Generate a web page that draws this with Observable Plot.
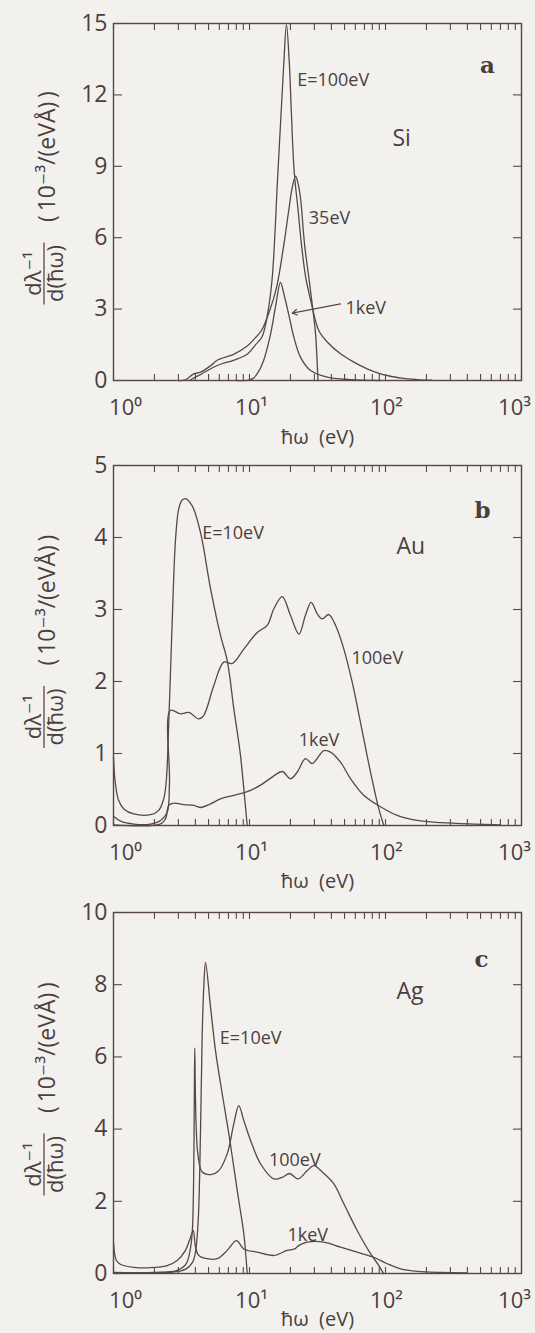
<!DOCTYPE html>
<html><head><meta charset="utf-8">
<script src="https://cdn.jsdelivr.net/npm/d3@7"></script>
<script src="https://cdn.jsdelivr.net/npm/@observablehq/plot@0.6"></script>
<style>
html,body{margin:0;padding:0;background:#f3f1ee;}
#chart{width:535px;}
#chart svg{display:block;}
</style></head><body><div id="chart"></div>
<script>
// ---------- data: [ħω (eV), dλ⁻¹/d(ħω) (10⁻³/(eVÅ))] ----------
// Panel a: Si
const si100eV = [[3.68,0.03],[4.36,0.25],[5.79,0.63],[7.63,0.85],[9.62,1.1],[11.07,1.5],[12.4,1.85],[13.7,2.93],[14.7,4.33],[16.1,8.52],[17.1,11.31],[17.9,13.4],[18.7,14.95],[19.6,13.4],[20.3,11.31],[21.3,8.8],[22.8,7.12],[24.1,5.72],[25.9,4.33],[28.6,3.21],[32.3,2.1],[37.3,1.62],[46.7,1.12],[58.5,0.77],[73.3,0.49],[91.9,0.28],[103,0.21],[130,0.1],[170,0.04],[220,0.01]];
const si35eV = [[3.0,0],[3.38,0.03],[3.89,0.28],[4.36,0.35],[5.17,0.62],[5.79,0.85],[7.63,1.1],[9.62,1.45],[11.07,1.8],[12.25,2.1],[14.0,2.9],[15.8,3.9],[17.9,5.72],[19.4,7.12],[20.6,8.1],[21.8,8.59],[22.7,8.3],[23.7,7.68],[25.4,5.72],[27.3,4.33],[28.9,3.21],[30.6,1.96],[31.8,0.14],[31.9,0]];
const si1keV = [[8,0],[9.84,0.02],[10.7,0.1],[11.6,0.35],[12.7,0.84],[14.3,1.96],[15.5,3.07],[16.9,4.12],[17.9,3.63],[19.4,2.79],[21.2,1.82],[23.7,0.98],[28.1,0.42],[37.3,0.14],[55.3,0.04],[92,0]];
const siTicksY = [0,3,6,9,12,15];
const siLabels = [{t:"E=100eV",x:22.4,y:12.6},{t:"35eV",x:27.3,y:6.8},{t:"1keV",x:50.8,y:3.02}];
const siArrow = [{x1:46.7,y1:3.22,x2:20.6,y2:2.83}];

// Panel b: Au
const au10eV = [[1.0,0.95],[1.03,0.6],[1.09,0.35],[1.19,0.23],[1.41,0.16],[1.87,0.15],[2.15,0.21],[2.34,0.37],[2.44,0.6],[2.55,1.43],[2.70,2.82],[2.86,3.98],[3.02,4.40],[3.2,4.52],[3.38,4.54],[3.79,4.44],[4.36,4.07],[5.17,3.29],[6.12,2.64],[6.86,2.29],[7.67,1.62],[8.59,0.97],[9.62,0]];
const au100eV = [[1.0,0.13],[1.13,0.06],[1.41,0.02],[1.87,0.02],[2.22,0.07],[2.48,0.18],[2.58,0.6],[2.62,1.6],[3.11,1.55],[3.58,1.57],[4.24,1.48],[4.61,1.53],[5.46,1.94],[6.47,2.27],[7.46,2.25],[9.08,2.45],[11.4,2.68],[13.5,2.78],[15.1,3.01],[17.4,3.18],[20.0,2.92],[23.1,2.66],[25.8,2.92],[28.4,3.10],[31.5,2.94],[34.2,2.87],[38.3,2.93],[42.9,2.78],[49.4,2.45],[56.9,1.99],[65.5,1.43],[77.6,0.74],[89.3,0.23],[97.2,0]];
const au1keV = [[1.0,0.01],[2.2,0.02],[2.41,0.09],[2.55,0.28],[2.78,0.31],[3.29,0.29],[3.89,0.28],[4.36,0.25],[5.17,0.30],[6.12,0.37],[7.67,0.42],[9.62,0.47],[12.05,0.56],[15.1,0.69],[17.4,0.75],[20.0,0.65],[22.4,0.74],[25.8,0.93],[28.9,0.86],[35.2,1.04],[39.4,1.02],[46.7,0.88],[55.3,0.65],[69.2,0.42],[91.9,0.26],[122,0.14],[171,0.07],[254,0.04],[446,0.02],[700,0.01]];
const auTicksY = [0,1,2,3,4,5];
const auLabels = [{t:"E=10eV",x:4.49,y:4.06},{t:"100eV",x:56.2,y:2.32},{t:"1keV",x:23.0,y:1.19}];

// Panel c: Ag
const ag10eV = [[1.0,0.02],[2.0,0.02],[2.94,0.05],[3.4,0.12],[3.8,0.3],[4.01,0.6],[4.2,1.5],[4.36,3.87],[4.49,6.64],[4.62,8.0],[4.75,8.62],[5.17,7.38],[5.62,6.18],[6.3,4.98],[7.05,3.87],[7.67,2.94],[8.34,2.02],[9.08,1.1],[9.62,0]];
const ag100eV = [[1.0,0.03],[2.0,0.03],[2.9,0.08],[3.4,0.25],[3.68,0.7],[3.8,1.2],[3.88,2.5],[3.93,5.0],[3.96,6.25],[4.0,5.0],[4.06,4.0],[4.17,3.32],[4.49,2.81],[5.17,2.74],[5.95,2.85],[6.86,3.32],[7.67,4.15],[8.34,4.65],[9.08,4.24],[10.2,3.68],[12.05,3.04],[15.1,2.62],[17.4,2.66],[19.7,2.77],[22.8,2.62],[26.6,2.85],[29.7,2.99],[34.3,2.81],[41.7,2.48],[49.4,1.93],[61.9,1.19],[77.6,0.55],[89.3,0.22],[94.6,0.06],[97,0]];
const ag1keV = [[1.0,0.85],[1.05,0.36],[1.13,0.25],[1.41,0.17],[1.87,0.16],[2.48,0.22],[2.94,0.36],[3.38,0.64],[3.68,1.0],[3.86,1.19],[4.01,0.73],[4.24,0.5],[4.89,0.41],[5.79,0.41],[6.86,0.64],[8.02,0.91],[9.08,0.68],[11.4,0.59],[15.1,0.5],[18.9,0.64],[21.5,0.68],[23.1,0.78],[26.6,0.87],[35.2,0.87],[46.7,0.73],[61.9,0.59],[82,0.45],[103,0.27],[129,0.13],[171,0.06],[254,0.03],[400,0.02]];
const agTicksY = [0,2,4,6,8,10];
const agLabels = [{t:"E=10eV",x:6.05,y:6.52},{t:"100eV",x:13.9,y:3.15},{t:"1keV",x:19.0,y:1.05}];

// axis tick labels
const xMajor = [1,10,100,1000];
const xMajorLabels = ["10⁰","10¹","10²","10³"];
const xLabelText = "ħω\u00a0\u00a0(eV)";
const yUnitText = "(\u200910⁻³/(eVÅ)\u2009)";
const yNumText = "dλ⁻¹";
const yDenText = "d(ħω)";

// ---------- style ----------
const INK = "#574846";
const TXT = "#4b3f3e";
const FONT = "'Open Sans','DejaVu Sans',sans-serif";
const W = 535, ML = 113, MR = 14;

const xAllTicks = [];
for (const d of [1,10,100]) for (let k = 1; k < 10; k++) xAllTicks.push(d*k);
xAllTicks.push(1000);

function panel(cfg) {
  const lineOpts = {x: d => d[0], y: d => d[1], stroke: INK, strokeWidth: 1.3, curve: "catmull-rom", strokeLinejoin: "round"};
  const labDx = [12, 2, 1, -7];
  const marks = [
    Plot.frame({stroke: INK, strokeWidth: 1.4}),
    Plot.axisX({anchor: "bottom", ticks: xAllTicks, tickSize: -6, tickFormat: () => "", stroke: INK, strokeWidth: 1.1}),
    Plot.axisX({anchor: "top", ticks: xAllTicks, tickSize: -6, tickFormat: () => "", stroke: INK, strokeWidth: 1.1}),
    ...xMajor.map((v, i) => Plot.axisX({anchor: "bottom", ticks: [v], tickSize: 0, tickPadding: 19,
        tickFormat: () => xMajorLabels[i], dx: labDx[i], fontSize: 22, fill: TXT})),
    Plot.axisY({anchor: "left", ticks: cfg.ticksY, tickSize: -9, tickPadding: 15, tickFormat: d => String(d), fontSize: 23, fill: TXT, stroke: INK, strokeWidth: 1.1}),
    Plot.axisY({anchor: "right", ticks: cfg.ticksY, tickSize: -9, tickFormat: () => "", stroke: INK, strokeWidth: 1.1}),
    ...cfg.series.map(s => Plot.line(s, lineOpts)),
    Plot.text(cfg.labels, {x: "x", y: "y", text: "t", textAnchor: "start", lineAnchor: "middle", fontSize: 18, fill: TXT}),
    Plot.text([cfg.element], {x: "x", y: "y", text: "t", textAnchor: "start", lineAnchor: "middle", fontSize: 23, fill: TXT}),
    Plot.text([cfg.letter], {x: "x", y: "y", text: "t", textAnchor: "middle", lineAnchor: "middle", fontSize: 23, fontWeight: "bold", fontFamily: "'DejaVu Serif','Liberation Serif',serif", fill: TXT}),
    Plot.text([xLabelText], {frameAnchor: "bottom", dy: cfg.xLabelDy, text: d => d, lineAnchor: "middle", fontSize: 20, fill: TXT})
  ];
  if (cfg.arrow) marks.push(Plot.arrow(cfg.arrow, {x1: "x1", y1: "y1", x2: "x2", y2: "y2", stroke: INK, strokeWidth: 1.2, headLength: 7}));
  const svg = Plot.plot({
    width: W, height: cfg.height,
    marginLeft: ML, marginRight: MR, marginTop: cfg.mt, marginBottom: cfg.mb,
    style: {background: "transparent", fontFamily: FONT, color: INK, overflow: "visible"},
    x: {type: "log", domain: [1, 1000], label: null},
    y: {domain: [0, cfg.ticksY[cfg.ticksY.length - 1]], label: null},
    marks
  });
  // rotated y-axis title (text), with a fraction bar
  const cy = cfg.mt + (cfg.height - cfg.mt - cfg.mb) / 2;
  const g = d3.select(svg).append("g").attr("fill", TXT).attr("font-family", FONT);
  g.append("text").attr("transform", `translate(55,${cy - 45}) rotate(-90)`).attr("text-anchor", "middle").attr("font-size", 23).text(yUnitText);
  const fy = cy + 72;
  g.append("text").attr("transform", `translate(41,${fy}) rotate(-90)`).attr("text-anchor", "middle").attr("font-size", 22).text(yNumText);
  g.append("line").attr("x1", 44).attr("x2", 44).attr("y1", fy - 31).attr("y2", fy + 31).attr("stroke", INK).attr("stroke-width", 1.3);
  g.append("text").attr("transform", `translate(63,${fy}) rotate(-90)`).attr("text-anchor", "middle").attr("font-size", 22).text(yDenText);
  return svg;
}

const root = document.getElementById("chart");
root.append(panel({height: 450, mt: 23, mb: 70, ticksY: siTicksY, series: [si100eV, si35eV, si1keV],
  labels: siLabels, element: {t: "Si", x: 112.5, y: 10.16}, letter: {t: "a", x: 562, y: 13.22}, arrow: siArrow, xLabelDy: 57}));
root.append(panel({height: 445, mt: 15, mb: 70, ticksY: auTicksY, series: [au10eV, au100eV, au1keV],
  labels: auLabels, element: {t: "Au", x: 120.5, y: 3.87}, letter: {t: "b", x: 517, y: 4.375}, xLabelDy: 56}));
root.append(panel({height: 438, mt: 17, mb: 60, ticksY: agTicksY, series: [ag10eV, ag100eV, ag1keV],
  labels: agLabels, element: {t: "Ag", x: 120.5, y: 7.81}, letter: {t: "c", x: 508, y: 8.7}, xLabelDy: 46}));
</script></body></html>
